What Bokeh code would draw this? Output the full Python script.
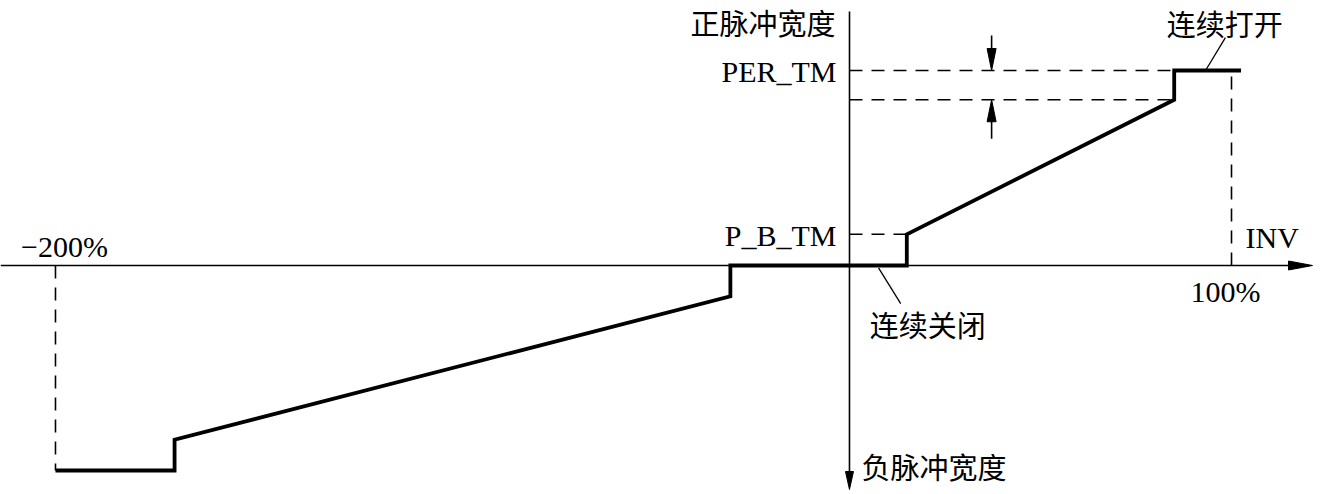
from bokeh.plotting import figure
from bokeh.models import Range1d
from bokeh.core.properties import value
from bokeh.embed import file_html
from bokeh.resources import INLINE

# ---------------- data (schematic) ----------------
# positive side: INV in %, pulse width in units of PER_TM
pos_inv = [0, 15, 15, 85, 85, 102.5]
pos_width = [0, 0, 0.16, 0.85, 1.0, 1.0]
# negative side
neg_inv = [0, -30, -30, -170, -170, -200]
neg_width = [0, 0, -0.15, -0.85, -1.0, -1.0]

PER_TM = 1.0
P_B_TM = 0.16
ramp_top = 0.85
ramp_start = 15
ramp_end = 85
inv_full = 100
inv_neg_full = -200

y_labels = ["PER_TM", "P_B_TM"]
y_label_vals = [PER_TM, P_B_TM]
x_tick_labels = ["\u2212200%", "100%"]

LATIN = "Liberation Serif"
CJK = "Noto Sans CJK SC"

W, H = 1322, 490
XR = (-222.25, 123.82)
YR = (-1.1538, 1.359)
XN = (-213.85, 119.15)
YN = (-1.0975, 1.2927)

p = figure(width=W, height=H, x_range=Range1d(*XR), y_range=Range1d(*YR),
           output_backend="svg", toolbar_location=None, min_border=0,
           x_axis_type=None, y_axis_type=None)
p.extra_x_ranges = {"neg": Range1d(*XN)}
p.extra_y_ranges = {"neg": Range1d(*YN)}
p.grid.visible = False
p.outline_line_color = None
p.background_fill_color = "white"

kx = W / (XR[1] - XR[0])   # px per unit, main x
ky = H / (YR[1] - YR[0])
kxn = W / (XN[1] - XN[0])
kyn = H / (YN[1] - YN[0])


def head(x, y, dx, dy, length, width, sx, sy, **kw):
    # filled narrow triangle, tip at (x, y), pointing along (dx, dy) in screen px
    bx = x - dx * length / sx
    by = y - dy * length / sy
    px_, py_ = -dy, dx
    xs = [x, bx + px_ * width / 2 / sx, bx - px_ * width / 2 / sx]
    ys = [y, by + py_ * width / 2 / sy, by - py_ * width / 2 / sy]
    p.patch(xs, ys, fill_color="black", line_color="black", line_width=1, **kw)


# ---------------- axes ----------------
x_tip = XR[1] - 10 / kx
p.segment(XR[0], 0, x_tip - 4 / kx, 0, line_color="black", line_width=1.6)
head(x_tip, 0, 1, 0, 24, 9, kx, ky)

y_top = YR[1] - 11 / ky
y_bot = YN[0] + 1 / kyn
p.segment(0, y_top, 0, 0, line_color="black", line_width=1.6)
p.segment(0, 0, 0, y_bot + 4 / kyn, line_color="black", line_width=1.6,
          x_range_name="neg", y_range_name="neg")
head(0, y_bot, 0, -1, 18, 8, kxn, kyn, x_range_name="neg", y_range_name="neg")

# ---------------- dashed guides ----------------
dash = "13 9"
p.segment([0, 0, 0, inv_full], [P_B_TM, PER_TM, ramp_top, 0],
          [ramp_start, ramp_end, ramp_end, inv_full], [P_B_TM, PER_TM, ramp_top, PER_TM],
          line_color="black", line_width=1.6, line_dash=dash)
p.segment([inv_neg_full], [0], [inv_neg_full], [-1.0], line_color="black",
          line_width=1.6, line_dash=dash, x_range_name="neg", y_range_name="neg")

# ---------------- characteristic curve ----------------
p.line(pos_inv, pos_width, line_color="black", line_width=3.8, line_join="miter")
p.line(neg_inv, neg_width, line_color="black", line_width=3.8, line_join="miter",
       x_range_name="neg", y_range_name="neg")

# ---------------- dimension arrows ----------------
ax = 37.2
p.segment(ax, 1.18, ax, PER_TM + 4 / ky, line_color="black", line_width=1.6)
head(ax, PER_TM, 0, -1, 22, 9, kx, ky)
p.segment(ax, 0.65, ax, ramp_top - 4 / ky, line_color="black", line_width=1.6)
head(ax, ramp_top, 0, 1, 22, 9, kx, ky)

# leader lines
p.segment([98.4, 7.6], [1.169, -0.012], [93.2, 13.4], [PER_TM, -0.195],
          line_color="black", line_width=1.3)

# ---------------- texts ----------------
def txt(x, y, s, font, size, align, base, xo=0, yo=0, **kw):
    p.text([x], [y], text=[s], text_font=value(font), text_font_size=size,
           text_align=align, text_baseline=base, x_offset=xo, y_offset=yo,
           text_color="black", **kw)

txt(0, y_top, "正脉冲宽度", CJK, "29px", "right", "middle", xo=-14, yo=10)
txt(0, -0.98, "负脉冲宽度", CJK, "29px", "left", "middle", xo=12,
    x_range_name="neg", y_range_name="neg")
for lab, v in zip(y_labels, y_label_vals):
    txt(0, v, lab, LATIN, "30px", "right", "middle", xo=-13, yo=1)
txt(inv_neg_full, 0, x_tick_labels[0], LATIN, "30px", "center", "bottom", xo=9, yo=-3,
    x_range_name="neg", y_range_name="neg")
txt(inv_full, 0, x_tick_labels[1], LATIN, "30px", "center", "top", xo=-6, yo=9)
txt(inv_full, 0, "INV", LATIN, "30px", "left", "bottom", xo=14, yo=-12)
txt(20.5, -0.298, "连续关闭", CJK, "29px", "center", "middle")
txt(98.2, YR[1] - 1 / ky, "连续打开", CJK, "29px", "center", "top")

open("out.html", "w").write(file_html(p, INLINE))
